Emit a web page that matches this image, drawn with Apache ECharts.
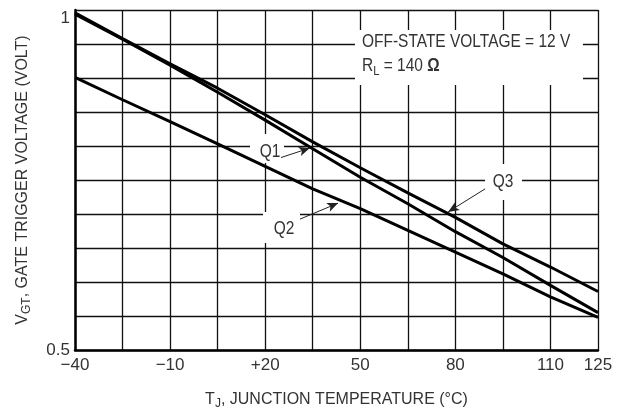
<!DOCTYPE html>
<html>
<head>
<meta charset="utf-8">
<script src="https://cdn.jsdelivr.net/npm/echarts@6/dist/echarts.min.js"></script>
<style>
  html, body { margin: 0; padding: 0; background: #fff; }
  #chart { width: 623px; height: 415px; }
</style>
</head>
<body>
<div id="chart"></div>
<script>
// Junction temperature (°C) sample points
const temps = [-40, -25, -10, 5, 20, 35, 50, 65, 80, 95, 110, 125];
// Gate trigger voltage (V) for each quadrant
const q1 = [0.994, 0.957, 0.919, 0.879, 0.838, 0.796, 0.754, 0.715, 0.674, 0.636, 0.595, 0.555];
const q2 = [0.901, 0.868, 0.836, 0.803, 0.770, 0.737, 0.708, 0.676, 0.644, 0.612, 0.578, 0.548];
const q3 = [0.996, 0.958, 0.921, 0.885, 0.846, 0.806, 0.768, 0.731, 0.695, 0.656, 0.622, 0.586];
// Labelled x ticks
const xTickLabels = { '-40': '\u221240', '-10': '\u221210', '20': '+20', '50': '50', '80': '80', '110': '110', '125': '125' };
const yTickLabels = { '0.5': '0.5', '1': '1' };

const FONT = "'Liberation Sans', Arial, sans-serif";
const TXT = '#333';

const chart = echarts.init(document.getElementById('chart'), null, { renderer: 'canvas' });

function pairs(vals) { return temps.map((t, i) => [t, vals[i]]); }

function curve(name, vals, arrow) {
  return {
    name, type: 'line', data: pairs(vals), showSymbol: false, smooth: false,
    lineStyle: { color: '#000', width: 3 }, z: 3, animation: false,
    markLine: {
      silent: true, animation: false,
      symbol: ['none', 'arrow'], symbolSize: [7, 11],
      label: { show: false },
      lineStyle: { color: '#222', width: 1, type: 'solid' },
      data: [[{ coord: arrow[0] }, { coord: arrow[1] }]]
    }
  };
}

// white patches that interrupt the grid behind the annotations
function patch(x, y, w, h) {
  return { type: 'rect', shape: { x, y, width: w, height: h }, style: { fill: '#fff' }, z: 1, silent: true };
}
// condensed-looking annotation text
function note(x, y, style, align) {
  return {
    type: 'text', x, y, z: 10, silent: true, scaleX: 0.86,
    style: Object.assign({ fill: TXT, align: align || 'left', verticalAlign: 'middle', font: `18px ${FONT}` }, style)
  };
}

chart.setOption({
  animation: false,
  backgroundColor: '#fff',
  grid: { left: 75, right: 25, top: 10, bottom: 57 },
  xAxis: {
    type: 'value', min: -40, max: 125, interval: 15,
    axisLine: { show: true, onZero: false, lineStyle: { color: '#000', width: 2.5 } },
    axisTick: { show: false },
    splitLine: { show: true, lineStyle: { color: '#111', width: 1.3 } },
    axisLabel: {
      fontFamily: FONT, fontSize: 17, color: TXT, margin: 7,
      formatter: v => xTickLabels[String(Math.round(v))] || ''
    },
    name: '{a|T}{s|J}{a|, JUNCTION TEMPERATURE (\u00B0C)}',
    nameLocation: 'middle', nameGap: 39,
    nameTextStyle: {
      rich: {
        a: { fontFamily: FONT, fontSize: 16, color: TXT },
        s: { fontFamily: FONT, fontSize: 12, color: TXT, padding: [9, 0, 0, 0] }
      }
    }
  },
  yAxis: {
    type: 'value', min: 0.5, max: 1, interval: 0.05,
    axisLine: { show: true, onZero: false, lineStyle: { color: '#000', width: 2.5 } },
    axisTick: { show: false },
    splitLine: { show: true, lineStyle: { color: '#111', width: 1.3 } },
    axisLabel: {
      fontFamily: FONT, fontSize: 17, color: TXT, margin: 5,
      verticalAlignMaxLabel: 'top',
      formatter: v => {
        if (Math.abs(v - 0.5) < 1e-6) return yTickLabels['0.5'];
        if (Math.abs(v - 1) < 1e-6) return yTickLabels['1'];
        return '';
      }
    },
    name: '{a|V}{s|GT}{a|, GATE TRIGGER VOLTAGE (VOLT)}',
    nameLocation: 'middle', nameGap: 42, nameRotate: 90,
    nameTextStyle: {
      rich: {
        a: { fontFamily: FONT, fontSize: 16, color: TXT },
        s: { fontFamily: FONT, fontSize: 12, color: TXT, padding: [9, 0, 0, 0] }
      }
    }
  },
  series: [
    curve('Q1', q1, [[25.0, 0.783], [34.1, 0.797]]),
    curve('Q2', q2, [[31.0, 0.6925], [43.0, 0.716]]),
    curve('Q3', q3, [[89.4, 0.737], [77.7, 0.703]])
  ],
  graphic: [
    patch(355, 30, 228, 55),
    patch(250, 134, 34, 29),
    patch(263, 212, 37, 31),
    patch(485, 164, 37, 36),
    note(362, 42, { text: 'OFF-STATE VOLTAGE = 12 V' }),
    note(362, 66, {
      text: '{a|R}{s|L}{a| = 140 }{b|\u03A9}',
      rich: {
        a: { font: `18px ${FONT}`, fill: TXT },
        s: { font: `13px ${FONT}`, fill: TXT, padding: [10, 0, 0, 0] },
        b: { font: `bold 18px ${FONT}`, fill: TXT }
      }
    }),
    note(270, 152, { text: 'Q1' }, 'center'),
    note(284, 229, { text: 'Q2' }, 'center'),
    note(503, 182, { text: 'Q3' }, 'center')
  ]
});
</script>
</body>
</html>
